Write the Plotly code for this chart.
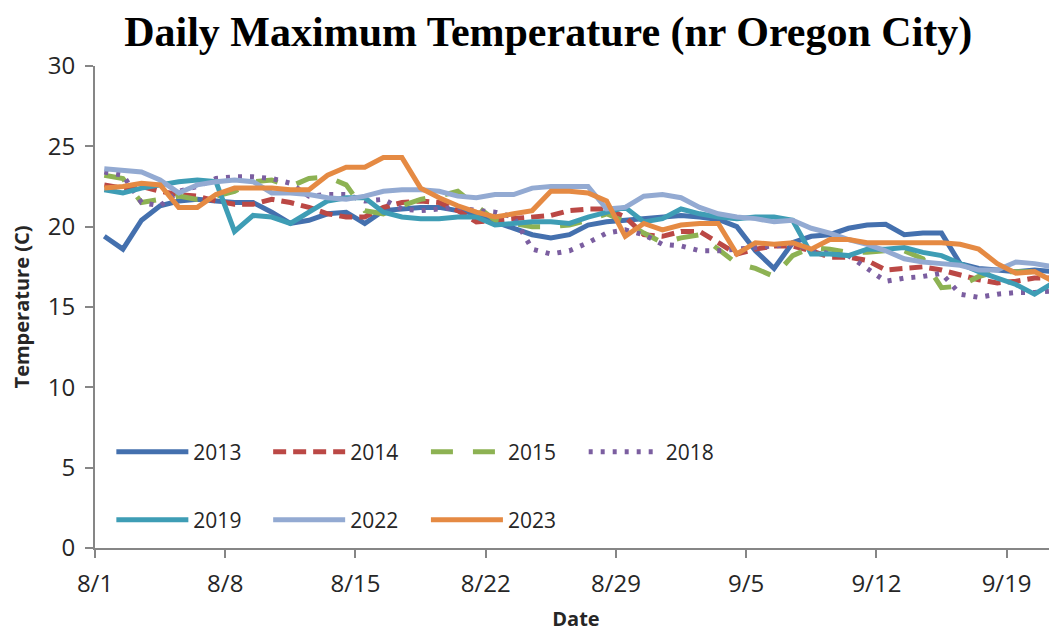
import pandas as pd
import plotly.graph_objects as go

dates = pd.date_range("2023-08-01 12:00", periods=52, freq="D")

years = ["2013", "2014", "2015", "2018", "2019", "2022", "2023"]

t2013 = [19.4, 18.6, 20.4, 21.3, 21.6, 21.7, 21.6, 21.5, 21.5, 20.9,
         20.2, 20.4, 20.8, 20.9, 20.2, 21.0, 21.1, 21.2, 21.2, 21.0,
         20.8, 20.3, 19.9, 19.5, 19.3, 19.5, 20.1, 20.3, 20.4, 20.5,
         20.6, 20.7, 20.6, 20.45, 20.0, 18.5, 17.4, 19.0, 19.4, 19.5,
         19.9, 20.1, 20.15, 19.5, 19.6, 19.6, 17.7, 17.4, 17.3, 17.2,
         17.3, 17.2]
t2014 = [22.6, 22.4, 22.5, 22.2, 22.0, 21.9, 21.6, 21.4, 21.4, 21.7,
         21.5, 21.2, 20.8, 20.6, 20.6, 21.2, 21.5, 21.6, 21.5, 21.0,
         20.3, 20.4, 20.5, 20.6, 20.7, 21.0, 21.1, 21.1, 20.6, 19.5,
         19.4, 19.7, 19.7, 19.0, 18.3, 18.6, 18.8, 18.8, 18.5, 18.1,
         18.1, 17.9, 17.3, 17.4, 17.5, 17.3, 17.0, 16.7, 16.5, 16.6,
         16.8, 16.8]
t2015 = [23.2, 23.0, 21.5, 21.7, 21.9, 21.7, 21.9, 22.2, 22.8, 22.9,
         22.5, 23.0, 23.1, 22.6, 21.0, 20.8, 21.3, 21.7, 21.9, 22.2,
         21.3, 20.4, 20.2, 20.0, 20.0, 20.1, 20.4, 20.8, 20.3, 19.6,
         19.0, 19.3, 19.5, 18.6, 17.7, 17.4, 16.9, 18.2, 18.7, 18.6,
         18.4, 18.4, 18.5, 18.5, 18.0, 16.2, 16.3, 16.9, 17.2, 17.2,
         17.2, 17.2]
t2018 = [23.4, 23.2, 21.5, 21.3, 22.2, 22.5, 23.0, 23.1, 23.1, 23.0,
         22.7, 21.9, 22.0, 22.0, 21.6, 21.7, 21.1, 21.0, 21.1, 21.2,
         21.0, 20.9, 20.6, 18.6, 18.3, 18.5, 19.0, 19.6, 19.8, 19.5,
         18.9, 18.8, 18.5, 18.5, 18.6, 18.7, 18.8, 18.9, 18.6, 18.3,
         18.2, 17.4, 16.6, 16.8, 16.9, 17.1, 15.8, 15.6, 15.8, 15.9,
         15.9, 16.0]
t2019 = [22.3, 22.1, 22.4, 22.6, 22.8, 22.9, 22.8, 19.7, 20.7, 20.6,
         20.2, 20.9, 21.6, 21.8, 21.8, 20.9, 20.6, 20.5, 20.5, 20.6,
         20.6, 20.1, 20.2, 20.3, 20.3, 20.2, 20.6, 20.9, 21.2, 20.3,
         20.5, 21.1, 20.8, 20.6, 20.5, 20.6, 20.6, 20.4, 18.3, 18.3,
         18.2, 18.6, 18.6, 18.7, 18.4, 18.2, 17.7, 17.2, 16.8, 16.4,
         15.8, 16.5]
t2022 = [23.6, 23.5, 23.4, 22.9, 22.1, 22.6, 22.8, 22.9, 22.8, 22.1,
         22.1, 22.0, 21.8, 21.7, 21.9, 22.2, 22.3, 22.3, 22.2, 21.9,
         21.8, 22.0, 22.0, 22.4, 22.5, 22.5, 22.5, 21.1, 21.2, 21.9,
         22.0, 21.8, 21.2, 20.8, 20.6, 20.5, 20.3, 20.4, 19.9, 19.6,
         19.2, 18.9, 18.5, 18.0, 17.8, 17.7, 17.6, 17.3, 17.3, 17.8,
         17.7, 17.5]
t2023 = [22.4, 22.5, 22.7, 22.6, 21.2, 21.2, 22.0, 22.4, 22.4, 22.4,
         22.3, 22.3, 23.2, 23.7, 23.7, 24.3, 24.3, 22.4, 21.8, 21.3,
         20.9, 20.6, 20.8, 21.0, 22.2, 22.2, 22.1, 21.6, 19.4, 20.2,
         19.8, 20.1, 20.2, 20.2, 18.3, 19.0, 18.9, 19.0, 18.6, 19.2,
         19.2, 19.0, 19.0, 19.0, 19.0, 19.0, 18.9, 18.6, 17.7, 17.1,
         17.2, 16.6]

tick_dates = ["2023-08-01", "2023-08-08", "2023-08-15", "2023-08-22",
              "2023-08-29", "2023-09-05", "2023-09-12", "2023-09-19"]
tick_labels = ["8/1", "8/8", "8/15", "8/22", "8/29", "9/5", "9/12", "9/19"]

series = [t2013, t2014, t2015, t2018, t2019, t2022, t2023]
colors = ["#4470AE", "#BB4845", "#8DB253", "#7B5EA0", "#3E9DB5", "#93AAD2", "#E58A43"]
dashes = ["solid", "13px,7px", "22px,20px", "4px,8px", "solid", "solid", "solid"]
widths = [5, 5, 5, 5, 5, 5, 5]

# legend placement (paper coords)
leg_x = [0.017, 0.180, 0.344, 0.508, 0.017, 0.180, 0.344]
leg_y = [0.199, 0.199, 0.199, 0.199, 0.058, 0.058, 0.058]

SANS = "Open Sans, Lato, sans-serif"

fig = go.Figure()
legend_layout = {}
for i, (yr, vals) in enumerate(zip(years, series)):
    lname = "legend" if i == 0 else f"legend{i+1}"
    fig.add_trace(go.Scatter(
        x=dates, y=vals, name=yr, mode="lines",
        line=dict(color=colors[i], width=widths[i], dash=dashes[i]),
        legend=lname,
    ))
    legend_layout[lname] = dict(
        x=leg_x[i], y=leg_y[i], xanchor="left", yanchor="middle",
        bgcolor="rgba(0,0,0,0)", itemwidth=72,
        font=dict(family=SANS, size=21, color="#262626"),
    )

# the page body adds an 8px offset, so the figure is sized to fit the window
fig.update_layout(
    width=1049, height=624,
    margin=dict(l=87, r=0, t=58, b=84, autoexpand=False),
    paper_bgcolor="white", plot_bgcolor="white",
    title=dict(text="<b>Daily Maximum Temperature (nr Oregon City)</b>",
               x=0.515, xanchor="center", y=0.963, yanchor="middle",
               font=dict(family="Liberation Serif, Times New Roman, serif", size=42, color="black")),
    showlegend=True,
    **legend_layout,
)

fig.update_xaxes(
    type="date", automargin=False,
    range=["2023-08-01", "2023-09-21 17:00"],
    tickvals=tick_dates, ticktext=tick_labels,
    showgrid=False, zeroline=False,
    showline=True, linecolor="#868686", linewidth=2,
    ticks="outside", ticklen=8, tickcolor="#868686", tickwidth=2,
    ticklabelstandoff=5,
    tickfont=dict(family=SANS, size=24, color="#262626"),
    title=dict(text="<b>Date</b>",
               font=dict(family=SANS, size=20, color="#262626")),
)
fig.update_yaxes(
    range=[0, 30], dtick=5, automargin=False,
    showgrid=False, zeroline=False,
    showline=True, linecolor="#868686", linewidth=2,
    ticks="outside", ticklen=8, tickcolor="#868686", tickwidth=2,
    ticklabelstandoff=5,
    tickfont=dict(family=SANS, size=24, color="#262626"),
    title=dict(text="<b>Temperature (C)</b>",
               font=dict(family=SANS, size=20, color="#262626")),
)

fig.write_html("out.html")
